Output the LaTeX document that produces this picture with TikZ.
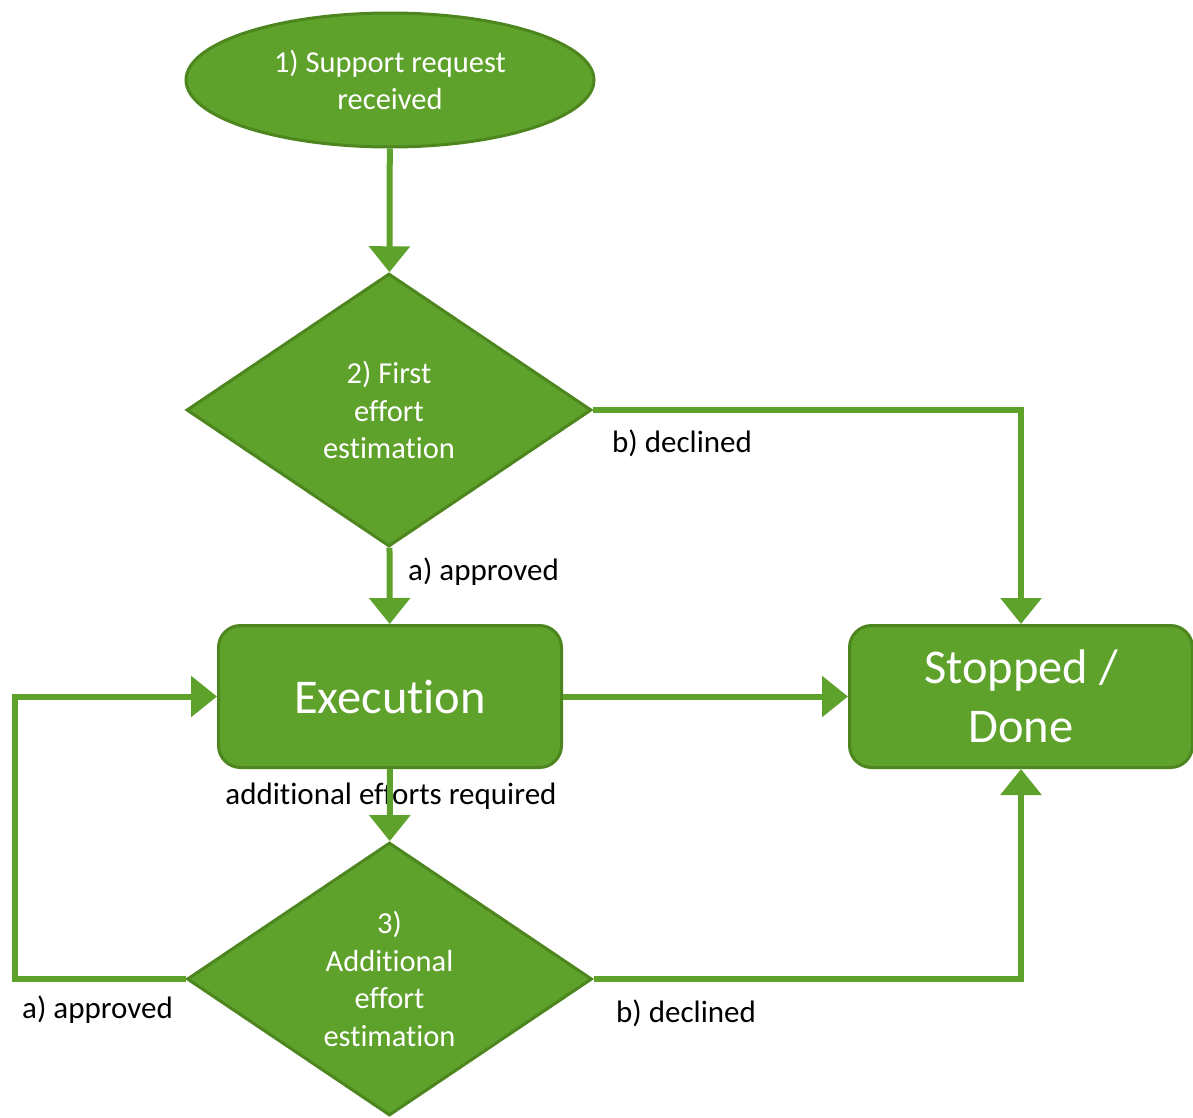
\documentclass[tikz,border=0pt]{standalone}
\usepackage{fontspec}
\setmainfont[Ligatures=NoCommon]{Carlito}
\usetikzlibrary{shapes.geometric,arrows.meta}
\definecolor{gfill}{RGB}{94,161,43}
\definecolor{gline}{RGB}{77,133,31}
\begin{document}
\begin{tikzpicture}[x=1pt,y=-1pt,
 shapebox/.style={fill=gfill,draw=gline,line width=3pt,text=white,inner sep=0pt,align=center,font=\fontsize{30.5}{37.5}\selectfont},
 bigbox/.style={shapebox,rounded corners=22pt,minimum width=343pt,minimum height=142pt,font=\fontsize{48.5}{59}\selectfont},
 decision/.style={shapebox,diamond,minimum width=405pt,minimum height=273pt},
 conn/.style={draw=gfill,line width=6pt,-{Triangle[width=40pt,length=26pt]}},
 lbl/.style={font=\fontsize{31}{36}\selectfont,text=black,inner sep=0pt}]
\useasboundingbox (0,0) rectangle (1193,1117);

\node[shapebox,ellipse,minimum width=408pt,minimum height=134pt] (start) at (390,80) {1) Support request\\received};
\node[decision] (d1) at (389,410) {2) First\\effort\\estimation};
\node[bigbox] (exec) at (390,696.5) {Execution};
\node[bigbox] (stop) at (1021,696.5) {Stopped /\\Done};
\node[decision] (d2) at (389.5,979) {3)\\Additional\\effort\\estimation};

\coordinate (loopc) at (15,979);

\node[lbl,anchor=west] (l1) at (612,443) {b) declined};
\node[lbl,anchor=west] (l2) at (408,572) {a) approved};
\node[lbl] (l3) at (391,796) {additional efforts required};
\node[lbl,anchor=west] (l4) at (22,1010) {a) approved};
\node[lbl,anchor=west] (l5) at (616,1013) {b) declined};

\draw[conn] (start) -- (d1);
\draw[conn] (d1.east) -| (stop.north);
\draw[conn] (d1) -- (exec);
\draw[conn] (exec) -- (stop);
\draw[conn] (exec) -- (d2);
\draw[conn] (d2.west) -- (loopc) |- (exec.west);
\draw[conn] (d2.east) -| (stop.south);
\end{tikzpicture}
\end{document}
